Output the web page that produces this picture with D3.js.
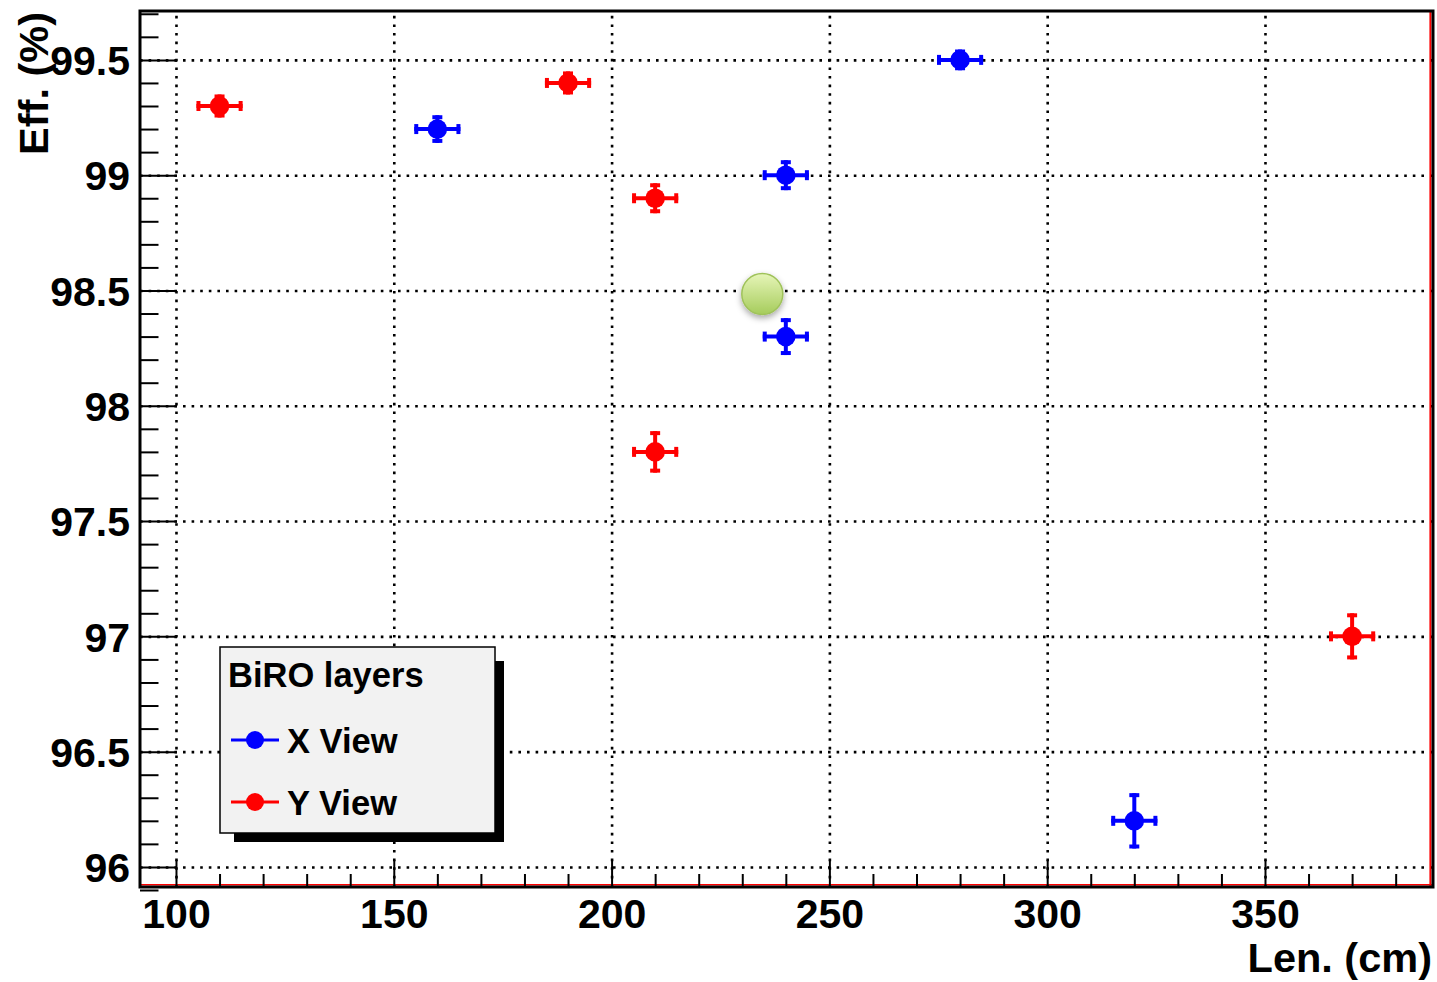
<!DOCTYPE html>
<html>
<head>
<meta charset="utf-8">
<script src="https://cdn.jsdelivr.net/npm/d3@7/dist/d3.min.js"></script>
<style>
  html, body { margin: 0; padding: 0; background: #fff; }
  svg { display: block; font-family: "Liberation Sans", Arial, Helvetica, sans-serif; font-weight: bold; }
</style>
</head>
<body>
<svg id="chart" width="1437" height="982"></svg>
<script>
// ---- data ----
const xViewLen = [160, 240, 240, 280, 320];
const xViewEff = [99.2, 99.0, 98.3, 99.5, 96.2];
const xViewLenErr = [5.3, 5.3, 5.3, 5.3, 5.3];
const xViewEffErr = [0.06, 0.065, 0.08, 0.045, 0.12];

const yViewLen = [110, 190, 210, 210, 370];
const yViewEff = [99.3, 99.4, 98.9, 97.8, 97.0];
const yViewLenErr = [5.3, 5.3, 5.3, 5.3, 5.3];
const yViewEffErr = [0.05, 0.05, 0.065, 0.09, 0.1];

const xTickValues = [100, 150, 200, 250, 300, 350];
const yTickValues = [96, 96.5, 97, 97.5, 98, 98.5, 99, 99.5];
const xTickLabels = ["100", "150", "200", "250", "300", "350"];
const yTickLabels = ["96", "96.5", "97", "97.5", "98", "98.5", "99", "99.5"];

const xTitle = "Len. (cm)";
const yTitle = "Eff. (%)";
const legendTitle = "BiRO layers";
const seriesNames = ["X View", "Y View"];
const seriesColors = ["#0000ff", "#ff0000"];

const markerAnnot = [{ len: 234.6, eff: 98.485 }];

// ---- layout ----
const L = 140, R = 1433, T = 11, B = 887;
const svg = d3.select("#chart");

const x = d3.scaleLinear().domain([91.74, 388.57]).range([L, R]);
const y = d3.scaleLinear().domain([95.913, 99.712]).range([B, T]);

const xMinor = d3.range(100, 389, 10).filter(v => v % 50 !== 0);
const yMinor = d3.range(959, 998, 1).map(v => v / 10).filter(v => Math.round(v * 10) % 5 !== 0);

// grid
const grid = svg.append("g");
grid.append("g").attr("transform", `translate(0,${B})`)
  .call(d3.axisBottom(x).tickValues(xTickValues).tickSize(-(B - T)).tickFormat(""))
  .call(g => g.select(".domain").remove());
grid.append("g").attr("transform", `translate(${L},0)`)
  .call(d3.axisLeft(y).tickValues(yTickValues).tickSize(-(R - L)).tickFormat(""))
  .call(g => g.select(".domain").remove());
grid.selectAll("line").attr("stroke", "#000").attr("stroke-width", 2.6).attr("stroke-dasharray", "2.6,6");

// frame
svg.append("line").attr("x1", L).attr("x2", R).attr("y1", B - 2.3).attr("y2", B - 2.3).attr("stroke", "#ff0000").attr("stroke-width", 1.6);
svg.append("line").attr("x1", R - 2.6).attr("x2", R - 2.6).attr("y1", T).attr("y2", B).attr("stroke", "#ff0000").attr("stroke-width", 2);
svg.append("rect").attr("x", L).attr("y", T).attr("width", R - L).attr("height", B - T)
  .attr("fill", "none").attr("stroke", "#000").attr("stroke-width", 3);

// axes
const axX = svg.append("g").attr("transform", `translate(0,${B})`)
  .call(d3.axisBottom(x).tickValues(xTickValues).tickSize(-27).tickPadding(13)
    .tickFormat((d, i) => xTickLabels[i]));
const axXm = svg.append("g").attr("transform", `translate(0,${B})`)
  .call(d3.axisBottom(x).tickValues(xMinor).tickSize(-13).tickFormat(""));
const axY = svg.append("g").attr("transform", `translate(${L},0)`)
  .call(d3.axisLeft(y).tickValues(yTickValues).tickSize(-37).tickPadding(10)
    .tickFormat((d, i) => yTickLabels[i]));
const axYm = svg.append("g").attr("transform", `translate(${L},0)`)
  .call(d3.axisLeft(y).tickValues(yMinor).tickSize(-18.5).tickFormat(""));
[axX, axXm, axY, axYm].forEach(g => {
  g.select(".domain").remove();
  g.selectAll("line").attr("stroke", "#000").attr("stroke-width", 2);
  g.selectAll("text").attr("fill", "#000").attr("font-size", 41).attr("font-family", null).attr("font-weight", "bold");
});
axY.selectAll("text").attr("dy", "0.36em");
axX.selectAll("text").attr("dy", "0.69em");

// titles
svg.append("text").attr("x", R - 1).attr("y", 972).attr("text-anchor", "end")
  .attr("font-size", 41.5).text(xTitle);
svg.append("text").attr("transform", `translate(48,${T + 1}) rotate(-90)`).attr("text-anchor", "end")
  .attr("font-size", 41.5).text(yTitle);

// series
function drawSeries(lens, effs, lerr, eerr, color) {
  const g = svg.append("g");
  const pts = lens.map((d, i) => ({ l: d, e: effs[i], le: lerr[i], ee: eerr[i] }));
  const cap = 5, capW = 4, barW = 4;
  pts.forEach(p => {
    const cx = x(p.l), cy = y(p.e);
    const x0 = x(p.l - p.le), x1 = x(p.l + p.le);
    const y0 = y(p.e + p.ee), y1 = y(p.e - p.ee);
    g.append("line").attr("x1", x0).attr("x2", x1).attr("y1", cy).attr("y2", cy).attr("stroke", color).attr("stroke-width", barW);
    g.append("line").attr("x1", cx).attr("x2", cx).attr("y1", y0).attr("y2", y1).attr("stroke", color).attr("stroke-width", barW);
    g.append("line").attr("x1", x0 + capW / 2).attr("x2", x0 + capW / 2).attr("y1", cy - cap).attr("y2", cy + cap).attr("stroke", color).attr("stroke-width", capW);
    g.append("line").attr("x1", x1 - capW / 2).attr("x2", x1 - capW / 2).attr("y1", cy - cap).attr("y2", cy + cap).attr("stroke", color).attr("stroke-width", capW);
    g.append("line").attr("x1", cx - cap).attr("x2", cx + cap).attr("y1", y0 + capW / 2).attr("y2", y0 + capW / 2).attr("stroke", color).attr("stroke-width", capW);
    g.append("line").attr("x1", cx - cap).attr("x2", cx + cap).attr("y1", y1 - capW / 2).attr("y2", y1 - capW / 2).attr("stroke", color).attr("stroke-width", capW);
    g.append("circle").attr("cx", cx).attr("cy", cy).attr("r", 9.8).attr("fill", color);
  });
}
drawSeries(xViewLen, xViewEff, xViewLenErr, xViewEffErr, seriesColors[0]);
drawSeries(yViewLen, yViewEff, yViewLenErr, yViewEffErr, seriesColors[1]);

// green annotation marker
const defs = svg.append("defs");
const grad = defs.append("linearGradient").attr("id", "gg").attr("x1", 0).attr("y1", 0).attr("x2", 0).attr("y2", 1);
grad.append("stop").attr("offset", "0%").attr("stop-color", "#e6f5b8");
grad.append("stop").attr("offset", "100%").attr("stop-color", "#a6cc5c");
const filt = defs.append("filter").attr("id", "sh").attr("x", "-50%").attr("y", "-50%").attr("width", "200%").attr("height", "200%");
filt.append("feDropShadow").attr("dx", 0).attr("dy", 3).attr("stdDeviation", 3).attr("flood-color", "#000").attr("flood-opacity", 0.35);
svg.append("g").selectAll("circle").data(markerAnnot).join("circle")
  .attr("cx", d => x(d.len)).attr("cy", d => y(d.eff)).attr("r", 20.5)
  .attr("fill", "url(#gg)").attr("stroke", "#9fc25a").attr("stroke-width", 1.5)
  .attr("filter", "url(#sh)");

// legend
const lg = svg.append("g");
lg.append("rect").attr("x", 234).attr("y", 661).attr("width", 270).attr("height", 181).attr("fill", "#000");
lg.append("rect").attr("x", 220).attr("y", 647).attr("width", 275).attr("height", 186)
  .attr("fill", "#f2f2f2").attr("stroke", "#000").attr("stroke-width", 1.5);
lg.append("text").attr("x", 228).attr("y", 687).attr("font-size", 34.5).text(legendTitle);
const rowsY = [740, 802];
seriesNames.forEach((name, i) => {
  lg.append("line").attr("x1", 231).attr("x2", 279).attr("y1", rowsY[i]).attr("y2", rowsY[i])
    .attr("stroke", seriesColors[i]).attr("stroke-width", 3);
  lg.append("circle").attr("cx", 255).attr("cy", rowsY[i]).attr("r", 9).attr("fill", seriesColors[i]);
  lg.append("text").attr("x", 287).attr("y", rowsY[i] + 13).attr("font-size", 34.5).text(name);
});
</script>
</body>
</html>
